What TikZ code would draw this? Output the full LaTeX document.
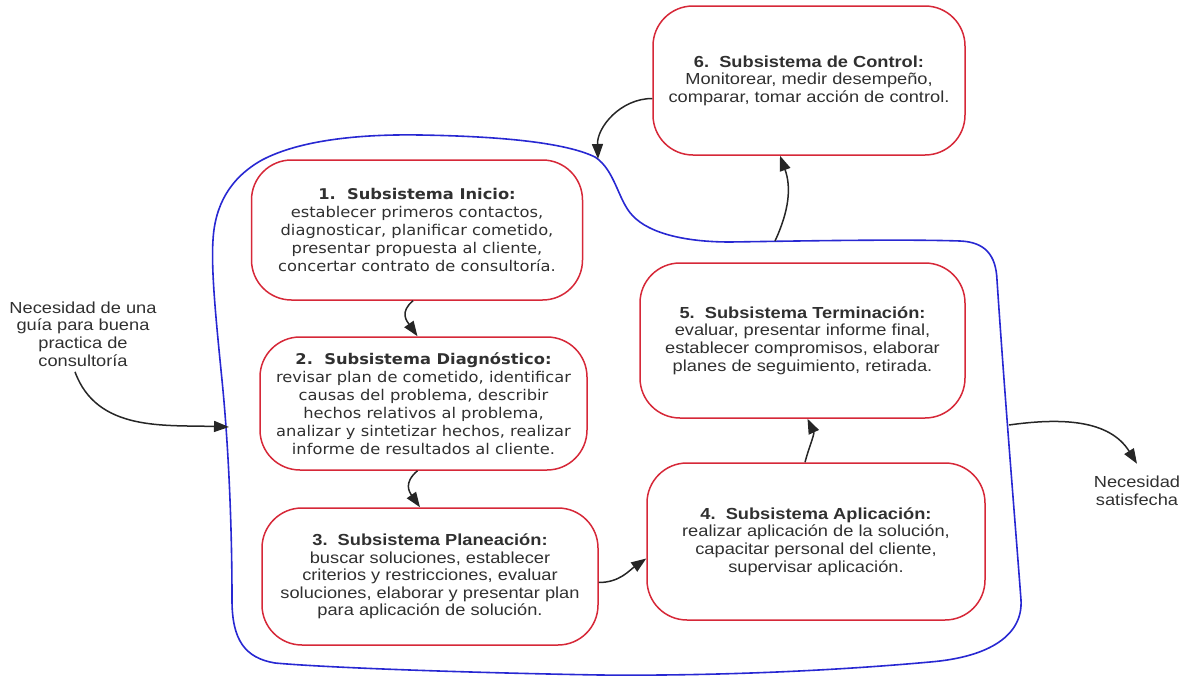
\documentclass[tikz,border=0pt]{standalone}
\usepackage{fontspec}
\usetikzlibrary{arrows.meta}
\newfontfamily\arialw[FakeStretch=1.14]{Liberation Sans}
\newfontfamily\tahw[FakeStretch=1.1]{DejaVu Sans}
\definecolor{boxred}{RGB}{214,40,56}
\definecolor{blobblue}{RGB}{40,40,210}
\definecolor{ink}{RGB}{48,48,48}

\begin{document}
\begin{tikzpicture}[x=1pt,y=1pt,
  subsys/.style={draw=boxred, line width=1.5pt, rounded corners=40pt,
    align=center, text=ink, inner sep=0pt},
  tahtext/.style={font=\tahw\fontsize{14.8}{18}\selectfont},
  arialtext/.style={font=\arialw\fontsize{16}{17.6}\selectfont},
  conn/.style={draw=black!85, line width=1.5pt, -{Triangle[length=15pt,width=11pt]}},
  outer/.style={align=center, text=ink, font=\arialw\fontsize{16}{17.6}\selectfont}
]
\useasboundingbox (0,0) rectangle (1197,-680);

% system boundary
\draw[blobblue, line width=1.6pt]
 (232,-600)
 .. controls (232,-520) and (228,-440) .. (222,-380)
 .. controls (216,-320) and (211,-270) .. (213,-240)
 .. controls (215,-205) and (230,-178) .. (262,-160)
 .. controls (300,-140) and (360,-134) .. (420,-135)
 .. controls (480,-136) and (560,-140) .. (595,-157)
 .. controls (615,-170) and (618,-200) .. (632,-215)
 .. controls (650,-235) and (690,-242) .. (730,-242)
 .. controls (800,-241) and (900,-239) .. (960,-241)
 .. controls (985,-242) and (996,-255) .. (997,-280)
 .. controls (1005,-400) and (1015,-520) .. (1021,-600)
 .. controls (1023,-635) and (990,-657) .. (930,-662)
 .. controls (820,-672) and (700,-676) .. (600,-675)
 .. controls (480,-673) and (330,-668) .. (275,-663)
 .. controls (245,-658) and (232,-640) .. (232,-600)
 -- cycle;

\coordinate (inpt) at (229,-427);
\coordinate (outpt) at (1009,-425);
\coordinate (ctrlout) at (775,-241);
\coordinate (fbin) at (598,-159);

% subsystems
\node[subsys, tahtext, minimum width=331pt, minimum height=140pt] (b1) at (417,-230)
 {\textbf{1.\ \ Subsistema Inicio:}\\establecer primeros contactos,\\diagnosticar, planificar cometido,\\presentar propuesta al cliente,\\concertar contrato de consultoría.};
\node[subsys, tahtext, minimum width=327pt, minimum height=133pt] (b2) at (423.5,-403.5)
 {\textbf{2.\ \ Subsistema Diagnóstico:}\\revisar plan de cometido, identificar\\causas del problema, describir\\hechos relativos al problema,\\analizar y sintetizar hechos, realizar\\informe de resultados al cliente.};
\node[subsys, arialtext, minimum width=336pt, minimum height=137pt] (b3) at (430,-576.5)
 {\textbf{3.\ \ Subsistema Planeación:}\\buscar soluciones, establecer\\criterios y restricciones, evaluar\\soluciones, elaborar y presentar plan\\para aplicación de solución.};
\node[subsys, arialtext, minimum width=338pt, minimum height=157pt] (b4) at (816,-541.5)
 {\textbf{4.\ \ Subsistema Aplicación:}\\realizar aplicación de la solución,\\capacitar personal del cliente,\\supervisar aplicación.};
\node[subsys, arialtext, minimum width=325pt, minimum height=155pt] (b5) at (802.5,-340.5)
 {\textbf{5.\ \ Subsistema Terminación:}\\evaluar, presentar informe final,\\establecer compromisos, elaborar\\planes de seguimiento, retirada.};
\node[subsys, arialtext, minimum width=312pt, minimum height=149pt] (b6) at (809,-80.5)
 {\textbf{6.\ \ Subsistema de Control:}\\Monitorear, medir desempeño,\\comparar, tomar acción de control.};

% environment
\node[outer] (need) at (83,-334) {Necesidad de una\\guía para buena\\practica de\\consultoría};
\node[outer] (sat) at (1137,-491) {Necesidad\\satisfecha};

% flows
\draw[conn] (need.south) ++(-8,-2) to[out=-70,in=178] (inpt);
\draw[conn] ([xshift=-4pt]b1.south) to[out=-140,in=125,looseness=1.3] ([xshift=-6pt]b2.north);
\draw[conn] ([xshift=-6pt]b2.south) to[out=-140,in=125,looseness=1.3] ([xshift=-10pt]b3.north);
\draw[conn] ([yshift=-6pt]b3.east) to[out=0,in=-145] ([yshift=-17pt]b4.west);
\draw[conn] ([xshift=-11pt]b4.north) to[out=75,in=-65] ([xshift=5pt]b5.south);
\draw[conn] (ctrlout) to[out=65,in=-70] ([xshift=-29pt]b6.south);
\draw[conn] ([yshift=-18pt]b6.west) to[out=180,in=92] (fbin);
\draw[conn] (outpt) to[out=8,in=122] ([yshift=9pt]sat.north);
\end{tikzpicture}
\end{document}
